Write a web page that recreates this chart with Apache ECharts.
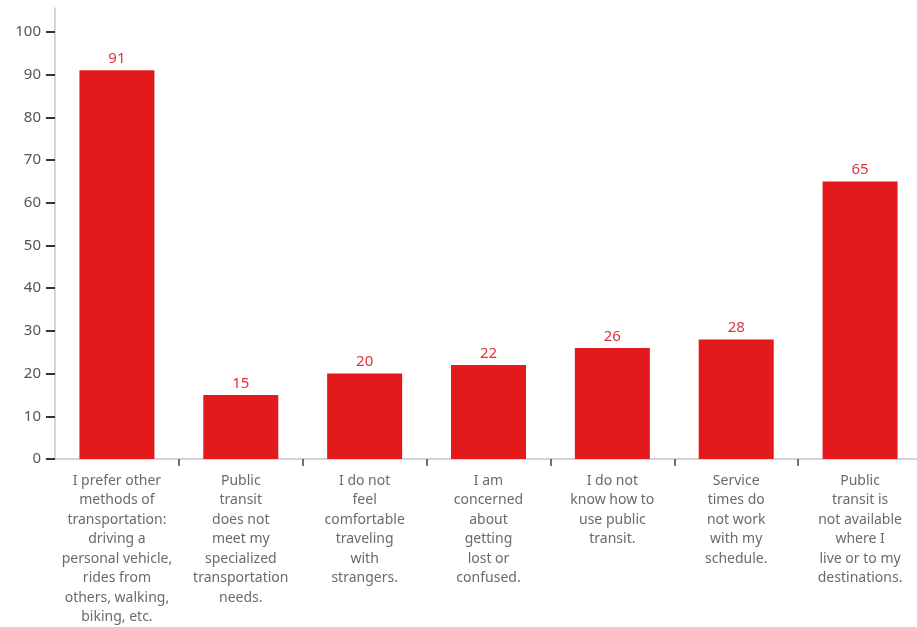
<!DOCTYPE html>
<html>
<head>
<meta charset="utf-8">
<script src="https://cdn.jsdelivr.net/npm/echarts@6/dist/echarts.min.js"></script>
<style>
  html, body { margin: 0; padding: 0; background: #fff; overflow: hidden; }
  /* the plot area runs a few pixels past the right edge of the page */
  #chart { width: 923px; height: 627px; }
</style>
</head>
<body>
<div id="chart"></div>
<script>
// Reasons given for not using public transit (number of responses)
const categories = [
  'I prefer other\nmethods of\ntransportation:\ndriving a\npersonal vehicle,\nrides from\nothers, walking,\nbiking, etc.',
  'Public\ntransit\ndoes not\nmeet my\nspecialized\ntransportation\nneeds.',
  'I do not\nfeel\ncomfortable\ntraveling\nwith\nstrangers.',
  'I am\nconcerned\nabout\ngetting\nlost or\nconfused.',
  'I do not\nknow how to\nuse public\ntransit.',
  'Service\ntimes do\nnot work\nwith my\nschedule.',
  'Public\ntransit is\nnot available\nwhere I\nlive or to my\ndestinations.'
];
const responses = [91, 15, 20, 22, 26, 28, 65];
const yTicks = [0, 10, 20, 30, 40, 50, 60, 70, 80, 90, 100];

const chart = echarts.init(document.getElementById('chart'));
const FONT = '"Noto Sans", sans-serif';

chart.setOption({
  animation: false,
  grid: { left: 55, top: 8, right: 1, bottom: 167, containLabel: false },
  xAxis: {
    type: 'category',
    data: categories,
    axisLine: { show: true, lineStyle: { color: '#c8c8c8', width: 1.5 } },
    axisTick: {
      show: true, alignWithLabel: false, length: 7,
      interval: (i) => i > 0,
      lineStyle: { color: '#444', width: 1.5 }
    },
    axisLabel: {
      interval: 0, margin: 12, color: '#6a6a6a', fontSize: 14, lineHeight: 19.5,
      fontFamily: FONT, align: 'center'
    }
  },
  yAxis: {
    type: 'value',
    min: 0, max: 105.6,
    splitLine: { show: false },
    axisLine: { show: true, lineStyle: { color: '#c8c8c8', width: 1.5 } },
    axisTick: { show: true, length: 9, customValues: yTicks, lineStyle: { color: '#333', width: 2 } },
    axisLabel: { customValues: yTicks, color: '#555', fontSize: 15, margin: 14, fontFamily: FONT }
  },
  series: [{
    type: 'bar',
    data: responses,
    barWidth: 75,
    itemStyle: { color: '#e3191c' },
    label: {
      show: true, position: 'top', distance: 4,
      color: '#e0323c', fontSize: 15, fontFamily: FONT
    }
  }]
});
</script>
</body>
</html>
